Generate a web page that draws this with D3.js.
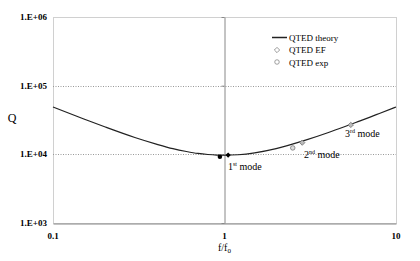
<!DOCTYPE html>
<html>
<head>
<meta charset="utf-8">
<script src="https://cdn.jsdelivr.net/npm/d3@7"></script>
<style>
  body { margin: 0; background: #fff; }
</style>
</head>
<body>
<svg id="chart" width="420" height="261" font-family="'Liberation Serif', 'Times New Roman', Times, 'DejaVu Serif', serif"></svg>
<script>
// theory curve
var theoryF = [0.1, 0.15, 0.2, 0.3, 0.4, 0.5, 0.6, 0.7, 0.8, 0.9, 1, 1.2, 1.5, 2, 3, 4, 5, 6, 7, 8, 10];
var theoryQ = [49000, 33000, 25200, 17600, 14100, 12100, 11000, 10300, 9940, 9750, 9700, 9860, 10500, 12100, 16200, 20600, 25200, 29900, 34600, 39400, 49000];

// first mode (black markers)
var mode1F = [0.94, 1.05];
var mode1Q = [9250, 9770];
var mode1Shape = ["circle", "diamond"];

// QTED EF (open diamonds)
var efF = [2.84, 5.45];
var efQ = [14800, 26800];

// QTED exp (open circles)
var expF = [2.5];
var expQ = [12400];

var yTicks = [1e3, 1e4, 1e5, 1e6];
var yTickLabels = ["1.E+03", "1.E+04", "1.E+05", "1.E+06"];
var xTicks = [0.1, 1, 10];
var xTickLabels = ["0.1", "1", "10"];
var legendNames = ["QTED theory", "QTED EF", "QTED exp"];

var svg = d3.select("#chart");
var plotL = 53, plotR = 396, plotT = 17, plotB = 223;

var x = d3.scaleLog().domain([0.1, 10]).range([plotL, plotR]);
var y = d3.scaleLog().domain([1e3, 1e6]).range([plotB, plotT]);

// plot frame (light)
svg.append("rect")
   .attr("x", plotL + 0.5).attr("y", plotT + 0.5)
   .attr("width", plotR - plotL).attr("height", plotB - plotT)
   .style("fill", "none").style("stroke", "#d0d0d0").style("stroke-width", 1);

// dotted gridlines
svg.selectAll(".grid")
   .data([1e4, 1e5])
   .enter().append("line")
   .attr("x1", plotL).attr("x2", plotR)
   .attr("y1", function(d){return Math.round(y(d)) + 0.5;})
   .attr("y2", function(d){return Math.round(y(d)) + 0.5;})
   .style("stroke", "#999").style("stroke-dasharray", "1,1.5");

// vertical axis crossing at f/f0 = 1
var yAxis = d3.axisLeft(y).tickValues(yTicks).tickFormat("").tickSize(3).tickSizeOuter(0);
var gy = svg.append("g").attr("transform", "translate(" + (Math.round(x(1)) + 0.5) + ",0)").call(yAxis);
gy.select(".domain").style("stroke", "#888");
gy.selectAll(".tick line").style("stroke", "#888");

// horizontal axis
var xAxis = d3.axisBottom(x).tickValues(xTicks).tickFormat("").tickSize(0).tickSizeOuter(0);
var gx = svg.append("g").attr("transform", "translate(0," + (plotB + 0.5) + ")").call(xAxis);
gx.select(".domain").style("stroke", "#888");

// tick labels
svg.selectAll(".ylab")
   .data(yTicks)
   .enter().append("text")
   .attr("x", plotL - 6)
   .attr("y", function(d){return y(d) + 3;})
   .attr("text-anchor", "end")
   .style("font-size", "9px").style("font-weight", "bold")
   .text(function(d, i){return yTickLabels[i];});

svg.selectAll(".xlab")
   .data(xTicks)
   .enter().append("text")
   .attr("x", function(d){return x(d);})
   .attr("y", 239)
   .attr("text-anchor", "middle")
   .style("font-size", "9px").style("font-weight", "bold")
   .text(function(d, i){return xTickLabels[i];});

// axis titles
svg.append("text").attr("x", 12).attr("y", 122).attr("text-anchor", "middle")
   .style("font-size", "12px").text("Q");

var xt = svg.append("text").attr("x", x(1)).attr("y", 251).attr("text-anchor", "middle").style("font-size", "10px");
xt.append("tspan").text("f/f");
xt.append("tspan").attr("dy", 2).style("font-size", "7px").text("0");

// theory line
var pts = theoryF.map(function(f, i){return [f, theoryQ[i]];});
var line = d3.line().curve(d3.curveMonotoneX)
  .x(function(d){return x(d[0]);})
  .y(function(d){return y(d[1]);});
svg.append("path").datum(pts).attr("d", line)
   .style("fill", "none").style("stroke", "#222").style("stroke-width", 1.2);

// markers
var diamond = d3.symbol().type(d3.symbolSquare).size(14);
var circle = d3.symbol().type(d3.symbolCircle).size(16);
function place(fx, qy, shape) {
  return "translate(" + x(fx) + "," + y(qy) + ")" + (shape == "diamond" ? " rotate(45)" : "");
}

svg.selectAll(".m1")
   .data(mode1F)
   .enter().append("path")
   .attr("transform", function(d, i){return place(d, mode1Q[i], mode1Shape[i]);})
   .attr("d", function(d, i){return mode1Shape[i] == "circle" ? circle() : diamond();})
   .style("fill", "#000");

svg.selectAll(".ef")
   .data(efF)
   .enter().append("path")
   .attr("transform", function(d, i){return place(d, efQ[i], "diamond");})
   .attr("d", diamond)
   .style("fill", "#bbb").style("stroke", "#777").style("stroke-width", 0.8);

svg.selectAll(".exp")
   .data(expF)
   .enter().append("path")
   .attr("transform", function(d, i){return place(d, expQ[i], "circle");})
   .attr("d", circle)
   .style("fill", "#ddd").style("stroke", "#777").style("stroke-width", 0.8);

// mode labels
function modeLabel(px, py, num, sup) {
  var t = svg.append("text").attr("x", px).attr("y", py).style("font-size", "10px");
  t.append("tspan").text(num);
  t.append("tspan").attr("dy", -4).style("font-size", "6px").text(sup);
  t.append("tspan").attr("dy", 4).text(" mode");
}
modeLabel(228, 170, "1", "st");
modeLabel(304, 158, "2", "nd");
modeLabel(345, 137, "3", "rd");

// legend
var lg = svg.append("g");
lg.append("line").attr("x1", 272).attr("x2", 287).attr("y1", 37.5).attr("y2", 37.5)
  .style("stroke", "#222").style("stroke-width", 1.5);
lg.append("path").attr("transform", "translate(277,50) rotate(45)").attr("d", diamond)
  .style("fill", "#fff").style("stroke", "#888").style("stroke-width", 0.8);
lg.append("path").attr("transform", "translate(277,62)").attr("d", circle)
  .style("fill", "#fff").style("stroke", "#888").style("stroke-width", 0.8);
lg.selectAll(".lt")
  .data(legendNames)
  .enter().append("text")
  .attr("x", 289)
  .attr("y", function(d, i){return 40.5 + i * 12.5;})
  .style("font-size", "9px")
  .text(function(d){return d;});
</script>
</body>
</html>
